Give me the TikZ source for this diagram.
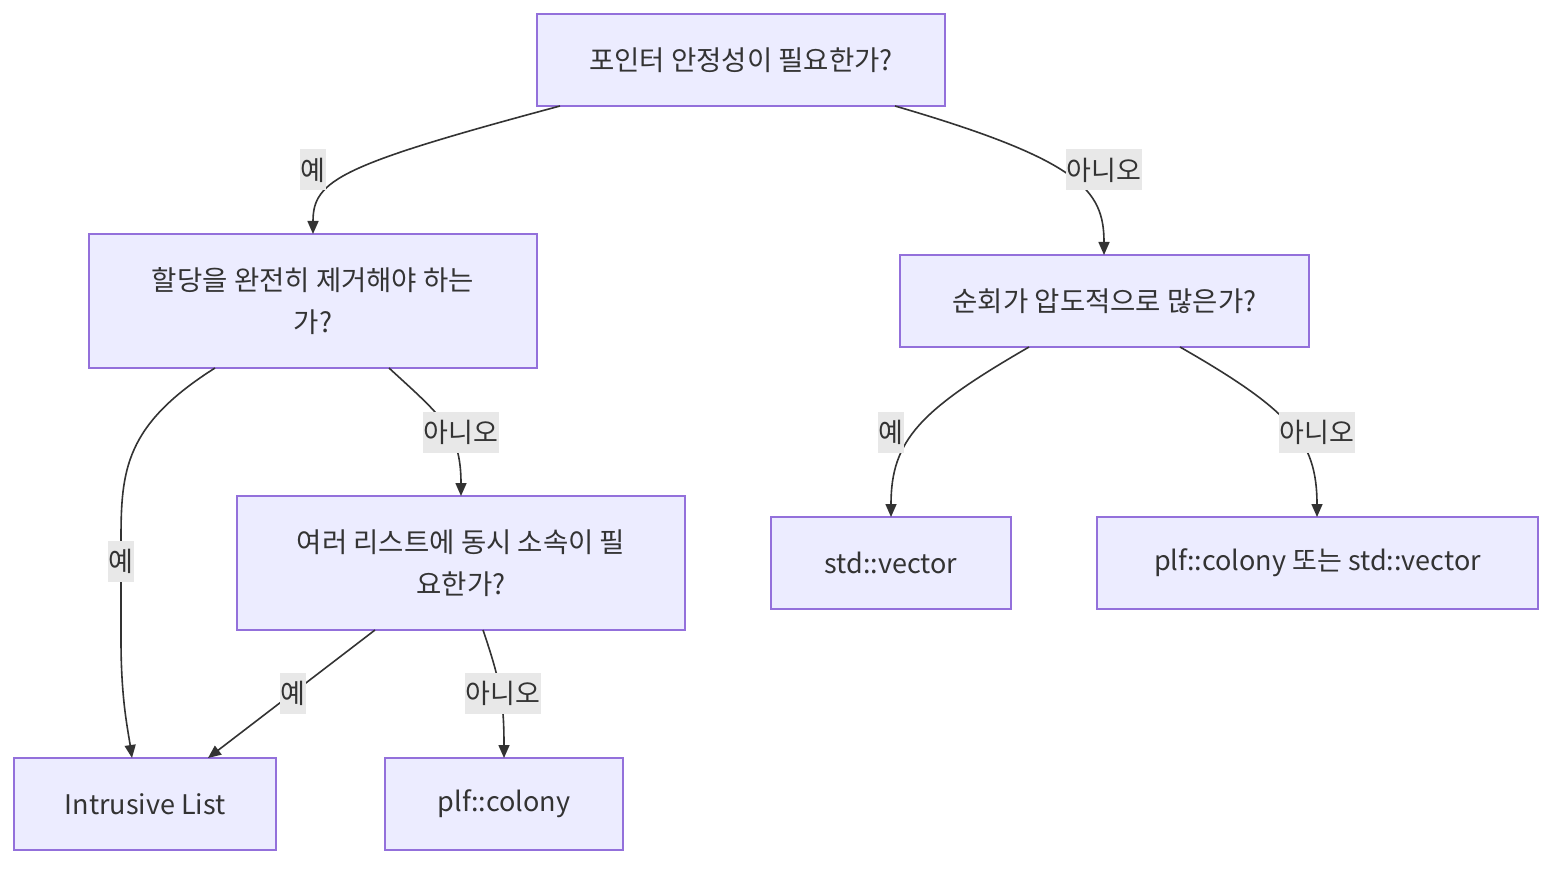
\documentclass[tikz,border=0pt]{standalone}
\usepackage{fontspec}
\setmainfont{Noto Sans CJK KR}
\usetikzlibrary{arrows.meta}
\definecolor{boxfill}{HTML}{ECECFF}
\definecolor{boxline}{HTML}{9370DB}
\definecolor{edgec}{HTML}{333333}
\definecolor{lblbg}{HTML}{E8E8E8}
\definecolor{txt}{HTML}{333333}
\begin{document}
\begin{tikzpicture}[x=1pt,y=-1pt,
  box/.style={draw=boxline,fill=boxfill,line width=1.5pt,text=txt,align=center,
    font=\fontsize{27.5}{42}\selectfont,inner sep=0pt},
  latin/.style={font=\fontsize{27}{42}\selectfont},
  lbl/.style={fill=lblbg,text=txt,font=\fontsize{27}{30}\selectfont,inner xsep=1pt,inner ysep=0pt,minimum height=41pt},
  edge/.style={draw=edgec,line width=1.6pt,-{Triangle[length=13pt,width=11pt]}}]
\useasboundingbox[fill=white] (0,0) rectangle (1568,874);
\node[box,minimum width=408pt,minimum height=92pt] (A) at (741,60) {포인터 안정성이 필요한가?};
\node[box,minimum width=448pt,minimum height=134pt] (B) at (313,301) {할당을 완전히 제거해야 하는\\가?};
\node[box,minimum width=409pt,minimum height=92pt] (C) at (1104.5,301) {순회가 압도적으로 많은가?};
\node[box,minimum width=448pt,minimum height=134pt] (D) at (461,563) {여러 리스트에 동시 소속이 필\\요한가?};
\node[box,latin,minimum width=240pt,minimum height=92pt] (E) at (891,563) {std::vector};
\node[box,latin,minimum width=441pt,minimum height=92pt] (F) at (1317.5,563) {plf::colony 또는 std::vector};
\node[box,latin,minimum width=262pt,minimum height=92pt] (G) at (145,804) {Intrusive List};
\node[box,latin,minimum width=238pt,minimum height=92pt] (H) at (504,804) {plf::colony};
% edges
\coordinate (a1) at (560,106);
\coordinate (a2) at (895,106);
\coordinate (b1) at (215,368);
\coordinate (b2) at (389,368);
\coordinate (c1) at (1029,347);
\coordinate (c2) at (1180,347);
\coordinate (d1) at (375,630);
\coordinate (d2) at (483,630);
\path[edge] (a1) .. controls (340,165) and (313,180) .. (313,234);
\path[edge] (a2) .. controls (1080,160) and (1104,190) .. (1104,255);
\path[edge] (b1) .. controls (125,425) and (121,470) .. (121,540) -- (121,640) .. controls (121,700) and (128,730) .. (132,758);
\path[edge] (b2) .. controls (440,415) and (461,430) .. (461,496);
\path[edge] (c1) .. controls (920,410) and (891,440) .. (891,517);
\path[edge] (c2) .. controls (1290,410) and (1317,440) .. (1317,517);
\path[edge] (d1) -- (208,758);
\path[edge] (d2) .. controls (500,680) and (504,700) .. (504,758);
% labels
\node[lbl] (l1) at (313,170) {예};
\node[lbl] (l2) at (1104,170) {아니오};
\node[lbl] (l3) at (121,561) {예};
\node[lbl] (l4) at (461,432) {아니오};
\node[lbl] (l5) at (891,432) {예};
\node[lbl] (l6) at (1317,432) {아니오};
\node[lbl] (l7) at (293,693) {예};
\node[lbl] (l8) at (503,693) {아니오};
\end{tikzpicture}
\end{document}
